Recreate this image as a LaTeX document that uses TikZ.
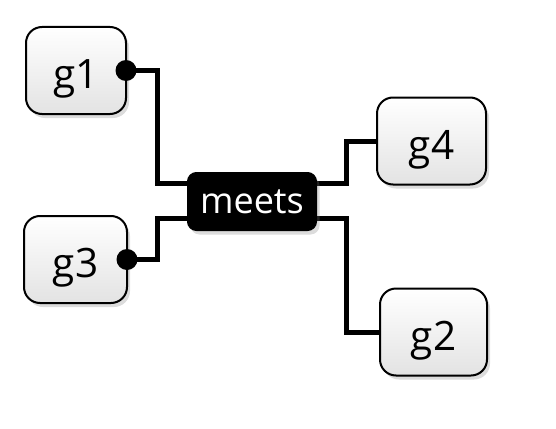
\documentclass[tikz,border=0pt]{standalone}
\usepackage{fontspec}
\setmainfont{Open Sans}
\usetikzlibrary{shadows,calc,backgrounds}
\tikzset{
  gbox/.style={draw=black, line width=2pt, rounded corners=16pt,
    top color=white, bottom color=black!11, inner sep=0pt, outer sep=0pt,
    minimum height=87pt, text height=36pt, text depth=0pt,
    font=\fontsize{40.5}{48}\selectfont,
    drop shadow={opacity=0.28, shadow xshift=3pt, shadow yshift=-4pt}},
  relbox/.style={fill=black, draw=black, line width=1pt, rounded corners=9pt,
    text=white, inner sep=0pt, outer sep=0pt, minimum width=129pt, minimum height=58pt,
    text height=23pt, text depth=0pt, font=\fontsize{36}{43}\selectfont,
    drop shadow={opacity=0.28, shadow xshift=3pt, shadow yshift=-4pt}},
  conn/.style={line width=5pt, draw=black},
  dot/.style={fill=black}
}
\begin{document}
\begin{tikzpicture}[x=1pt,y=-1pt]
  \useasboundingbox (0,0) rectangle (556,428);
  \node[gbox, minimum width=100pt] (g1) at (76,70.5) {g1};
  \node[gbox, minimum width=103pt] (g3) at (75.5,259.5) {g3};
  \node[gbox, minimum width=109pt] (g4) at (431.5,141) {g4};
  \node[gbox, minimum width=107pt] (g2) at (433.5,332) {g2};
  \node[relbox] (meets) at (252,201.5) {meets};
  \coordinate (lx) at (157,0);
  \coordinate (rx) at (346,0);
  \begin{scope}[on background layer]
    \draw[conn] (g1.east) -- (g1.east -| lx) |- ($(meets.west)+(0,-18.5)$);
    \draw[conn] (g3.east) -- (g3.east -| lx) |- ($(meets.west)+(0,17)$);
    \draw[conn] ($(meets.east)+(0,-18.5)$) -| (rx |- g4.west) -- (g4.west);
    \draw[conn] ($(meets.east)+(0,17)$) -| (rx |- g2.west) -- (g2.west);
  \end{scope}
  \fill[dot] (g1.east) circle[radius=10.5pt];
  \fill[dot] (g3.east) circle[radius=10.5pt];
\end{tikzpicture}
\end{document}
